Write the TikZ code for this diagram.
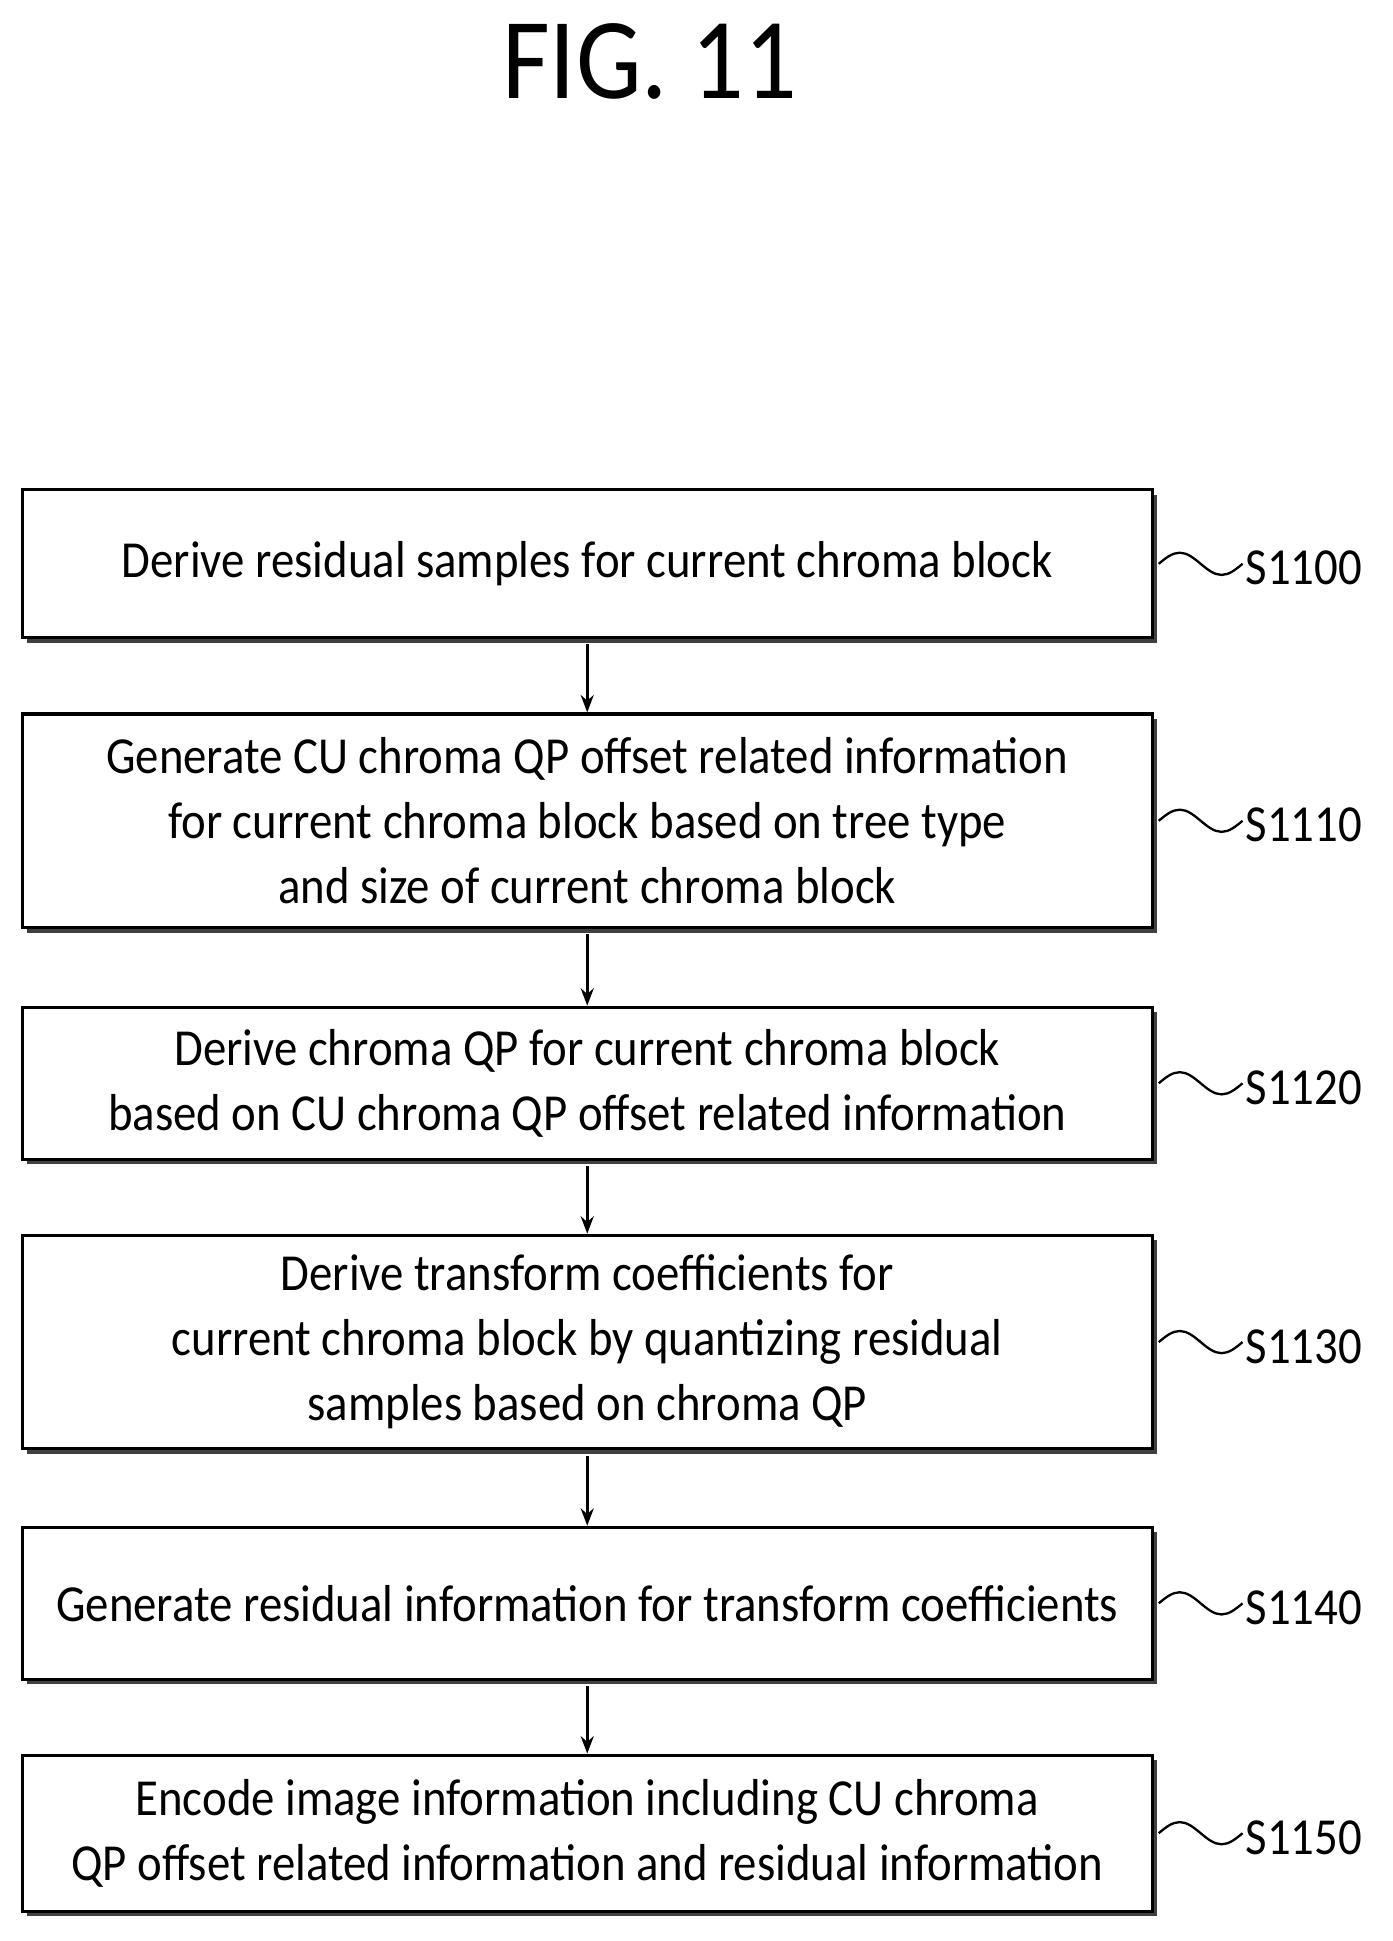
\documentclass[tikz,border=0pt]{standalone}
\usepackage{fontspec}
\setmainfont[FakeStretch=0.9]{Carlito}
\usetikzlibrary{shadows,arrows.meta}
\tikzset{
  stepbox/.style = {shape=rectangle, draw, line width=2.2pt, fill=white,
                 align=center, inner sep=0pt,
                 minimum width=27.5cm,
                 font=\fontsize{36}{45}\selectfont,
                 drop shadow={shadow xshift=3.5pt, shadow yshift=-3.5pt,
                              fill=black!75, opacity=1}},
  flow/.style = {draw, line width=2pt, -{Stealth[length=12pt,width=9pt]}},
  tag/.style  = {anchor=west, inner sep=0pt, font=\fontsize{36}{45}\selectfont},
  wave/.style = {line width=1.6pt}
}
\begin{document}
\begin{tikzpicture}[x=0.03cm,y=-0.03cm]
 \useasboundingbox (0,0) rectangle (1130,1575);
 \node[font=\fontsize{80}{90}\selectfont] (title) at (527,50) {FIG. 11};

 \node[stepbox, minimum height=3.6cm] (s0) at (476.5,457.5)
   {Derive residual samples for current chroma block};
 \node[stepbox, minimum height=5.2cm] (s1) at (476.5,666)
   {Generate CU chroma QP offset related information\\
    for current chroma block based on tree type\\
    and size of current chroma block};
 \node[stepbox, minimum height=3.7cm] (s2) at (476.5,879)
   {Derive chroma QP for current chroma block\\
    based on CU chroma QP offset related information};
 \node[stepbox, minimum height=5.2cm] (s3) at (476.5,1089)
   {Derive transform coefficients for\\
    current chroma block by quantizing residual\\
    samples based on chroma QP};
 \node[stepbox, minimum height=3.7cm] (s4) at (476.5,1301)
   {Generate residual information for transform coefficients};
 \node[stepbox, minimum height=3.8cm] (s5) at (476.5,1487.5)
   {Encode image information including CU chroma\\
    QP offset related information and residual information};

 % step labels
 \foreach \s/\t in {s0/S1100,s1/S1110,s2/S1120,s3/S1130,s4/S1140,s5/S1150} {
   \draw[wave] ([xshift=3.5pt]\s.east) sin ++(17,-9) cos ++(17,9)
                sin ++(17,9) cos ++(17,-9) coordinate (w\s);
   \node[tag] (l\s) at ([xshift=2pt,yshift=-3pt]w\s) {\t};
 }

 % arrows
 \foreach \a/\b in {s0/s1,s1/s2,s2/s3,s3/s4,s4/s5}
   \draw[flow] ([yshift=-3.5pt]\a.south) -- (\b.north);
\end{tikzpicture}
\end{document}
